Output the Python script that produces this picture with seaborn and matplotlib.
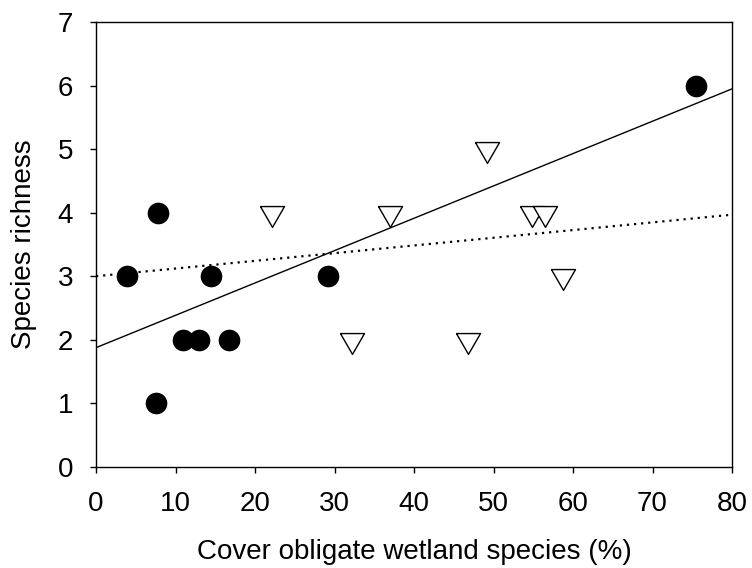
import numpy as np
import pandas as pd
import matplotlib
matplotlib.use("Agg")
import matplotlib.pyplot as plt
import seaborn as sns

# Filled circles
circle_x = [3.9, 7.8, 7.5, 11.0, 13.0, 14.5, 16.7, 29.2, 75.5]
circle_y = [3, 4, 1, 2, 2, 3, 2, 3, 6]
# Open triangles
tri_x = [22.1, 32.2, 37.0, 46.8, 49.2, 54.8, 56.5, 58.7]
tri_y = [4, 2, 4, 2, 5, 4, 4, 3]
# Dotted fitted line (intercept, slope)
dotted_intercept = 3.0
dotted_slope = 0.0121

x_ticks = [0, 10, 20, 30, 40, 50, 60, 70, 80]
y_ticks = [0, 1, 2, 3, 4, 5, 6, 7]
x_label = "Cover obligate wetland species (%)"
y_label = "Species richness"

sns.set_theme(style="ticks")
plt.rcParams['font.family'] = ['Liberation Sans', 'DejaVu Sans']

fig = plt.figure(figsize=(7.52, 5.68), dpi=100)
ax = fig.add_axes([0.1277, 0.178, 0.9734 - 0.1277, 0.9613 - 0.178])

df_c = pd.DataFrame({"x": circle_x, "y": circle_y})
df_t = pd.DataFrame({"x": tri_x, "y": tri_y})

# regression lines
xx = np.array([x_ticks[0], x_ticks[-1]], dtype=float)
slope_c, inter_c = np.polyfit(circle_x, circle_y, 1)
sns.lineplot(x=xx, y=inter_c + slope_c * xx, ax=ax, color="black", lw=1.0, zorder=2)
sns.lineplot(x=xx, y=dotted_intercept + dotted_slope * xx, ax=ax, color="black",
             lw=1.6, linestyle=(0, (1, 2.2)), zorder=2)

# equilateral down triangle centred on centroid
tri_marker = [(-1, 0.577), (1, 0.577), (0, -1.155), (-1, 0.577)]
sns.scatterplot(data=df_t, x="x", y="y", ax=ax, marker=tri_marker, s=20.0**2,
                facecolor="white", edgecolor="black", linewidth=1.0, zorder=3)
sns.scatterplot(data=df_c, x="x", y="y", ax=ax, marker="o", s=15.6**2,
                color="black", edgecolor="black", linewidth=0, zorder=4)

ax.set_xlim(0, 80)
ax.set_ylim(0, 7)
ax.set_xticks(x_ticks)
ax.set_yticks(y_ticks)
ax.tick_params(axis="both", labelsize=20, length=4.5, width=1.0, color="black",
               direction="out", labelcolor="black")
ax.tick_params(axis="x", pad=13)
ax.tick_params(axis="y", pad=12)
for s in ax.spines.values():
    s.set_visible(True)
    s.set_color("black")
    s.set_linewidth(1.0)
ax.set_xlabel(x_label, fontsize=20, labelpad=16, color="black")
ax.set_ylabel(y_label, fontsize=20, labelpad=15, color="black")

fig.savefig("out.png", dpi=100, facecolor="white")
